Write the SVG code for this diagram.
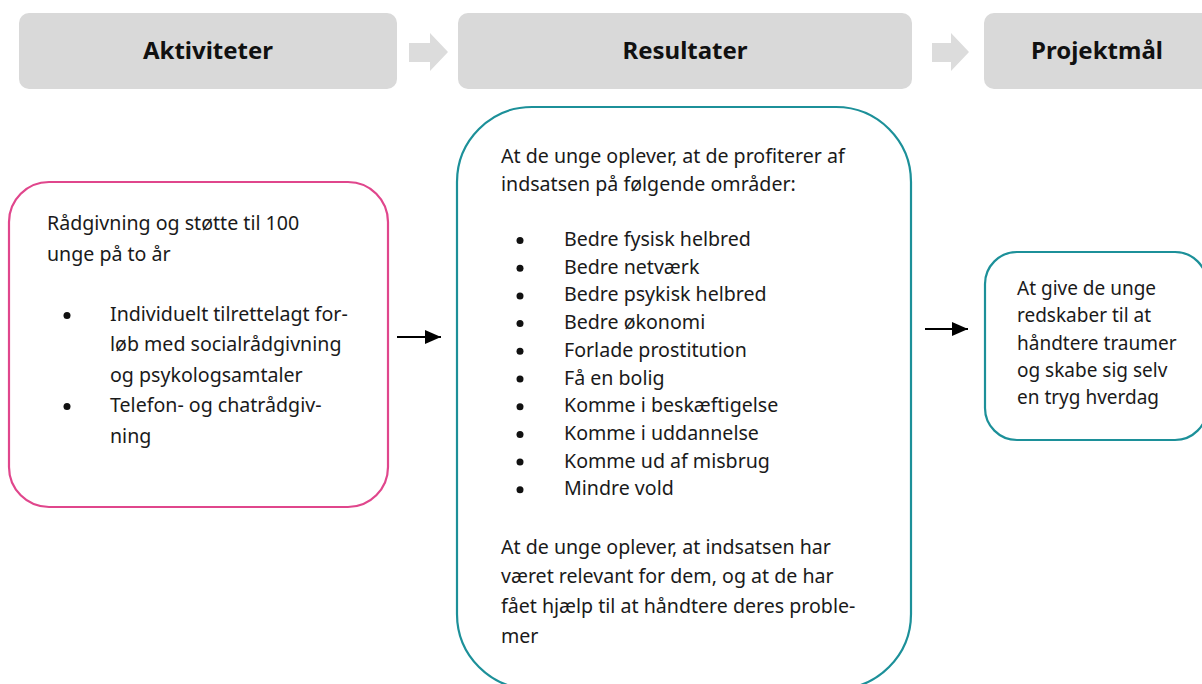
<svg xmlns="http://www.w3.org/2000/svg" width="1202" height="684" viewBox="0 0 1202 684">
<defs>
<style>
.hdr{fill:#d9d9d9}
.chev{fill:#dcdcdc}
.ht{font-family:"Noto Sans","Open Sans",sans-serif;font-weight:bold;font-size:24px;fill:#111;text-anchor:middle}
.t{font-family:"Noto Sans","Open Sans",sans-serif;font-size:19.6px;fill:#1a1a1a}
.ts{font-family:"Noto Sans","Open Sans",sans-serif;font-size:19px;fill:#1a1a1a}
.pink{fill:#fff;stroke:#e0468c;stroke-width:2.2}
.teal{fill:#fff;stroke:#1c9099;stroke-width:2.2}
.dot{fill:#111}
.conn{stroke:#000;stroke-width:2.2;fill:none}
</style>
<marker id="ah" viewBox="0 0 16 14" refX="16" refY="7" markerWidth="16" markerHeight="14" markerUnits="userSpaceOnUse" orient="auto">
<path d="M0,0 L16,7 L0,14 z" fill="#000"/>
</marker>
</defs>
<rect width="1202" height="684" fill="#fff"/>

<g id="header-aktiviteter">
<rect class="hdr" x="19" y="13" width="378" height="76" rx="10"/>
<text class="ht" x="208" y="59">Aktiviteter</text>
</g>
<g id="header-resultater">
<rect class="hdr" x="458" y="13" width="454" height="76" rx="10"/>
<text class="ht" x="685" y="59">Resultater</text>
</g>
<g id="header-projektmaal">
<rect class="hdr" x="984" y="13" width="240" height="76" rx="10"/>
<text class="ht" x="1097" y="59">Projektmål</text>
</g>
<g id="chevrons">
<polygon class="chev" points="409,43 430,43 430,33 448,52 430,71 430,62 409,62"/>
<polygon class="chev" points="932,43 951,43 951,33 969,52 951,71 951,62 932,62"/>
</g>

<g id="node-aktiviteter">
<rect class="pink" x="9" y="182" width="379" height="325" rx="40"/>
<text class="t" x="47" y="230">Rådgivning og støtte til 100</text>
<text class="t" x="47" y="260.5">unge på to år</text>
<circle class="dot" cx="67" cy="315.5" r="3.5"/>
<text class="t" x="110" y="320.5">Individuelt tilrettelagt for-</text>
<text class="t" x="110" y="351">løb med socialrådgivning</text>
<text class="t" x="110" y="381.5">og psykologsamtaler</text>
<circle class="dot" cx="67" cy="406.5" r="3.5"/>
<text class="t" x="110" y="412">Telefon- og chatrådgiv-</text>
<text class="t" x="110" y="442.5">ning</text>
</g>

<g id="node-resultater">
<rect class="teal" x="457" y="107" width="454" height="582" rx="75"/>
<text class="t" x="501" y="163">At de unge oplever, at de profiterer af</text>
<text class="t" x="501" y="191">indsatsen på følgende områder:</text>
<g class="dot">
<circle cx="520" cy="240.5" r="3.5"/>
<circle cx="520" cy="268.2" r="3.5"/>
<circle cx="520" cy="295.9" r="3.5"/>
<circle cx="520" cy="323.6" r="3.5"/>
<circle cx="520" cy="351.3" r="3.5"/>
<circle cx="520" cy="379" r="3.5"/>
<circle cx="520" cy="406.7" r="3.5"/>
<circle cx="520" cy="434.4" r="3.5"/>
<circle cx="520" cy="462.1" r="3.5"/>
<circle cx="520" cy="489.8" r="3.5"/>
</g>
<text class="t" x="564" y="246">Bedre fysisk helbred</text>
<text class="t" x="564" y="273.7">Bedre netværk</text>
<text class="t" x="564" y="301.4">Bedre psykisk helbred</text>
<text class="t" x="564" y="329.1">Bedre økonomi</text>
<text class="t" x="564" y="356.8">Forlade prostitution</text>
<text class="t" x="564" y="384.5">Få en bolig</text>
<text class="t" x="564" y="412.2">Komme i beskæftigelse</text>
<text class="t" x="564" y="439.9">Komme i uddannelse</text>
<text class="t" x="564" y="467.6">Komme ud af misbrug</text>
<text class="t" x="564" y="495.3">Mindre vold</text>
<text class="t" x="501" y="553.5">At de unge oplever, at indsatsen har</text>
<text class="t" x="501" y="583">været relevant for dem, og at de har</text>
<text class="t" x="501" y="613">fået hjælp til at håndtere deres proble-</text>
<text class="t" x="501" y="643">mer</text>
</g>

<g id="node-projektmaal">
<rect class="teal" x="985" y="252" width="222" height="188" rx="32"/>
<text class="ts" x="1017" y="295">At give de unge</text>
<text class="ts" x="1017" y="322">redskaber til at</text>
<text class="ts" x="1017" y="349.5">håndtere traumer</text>
<text class="ts" x="1017" y="376.5">og skabe sig selv</text>
<text class="ts" x="1017" y="403.5">en tryg hverdag</text>
</g>

<g id="connectors">
<line class="conn" x1="397" y1="337" x2="441" y2="337" marker-end="url(#ah)"/>
<line class="conn" x1="925" y1="329" x2="968" y2="329" marker-end="url(#ah)"/>
</g>
</svg>
